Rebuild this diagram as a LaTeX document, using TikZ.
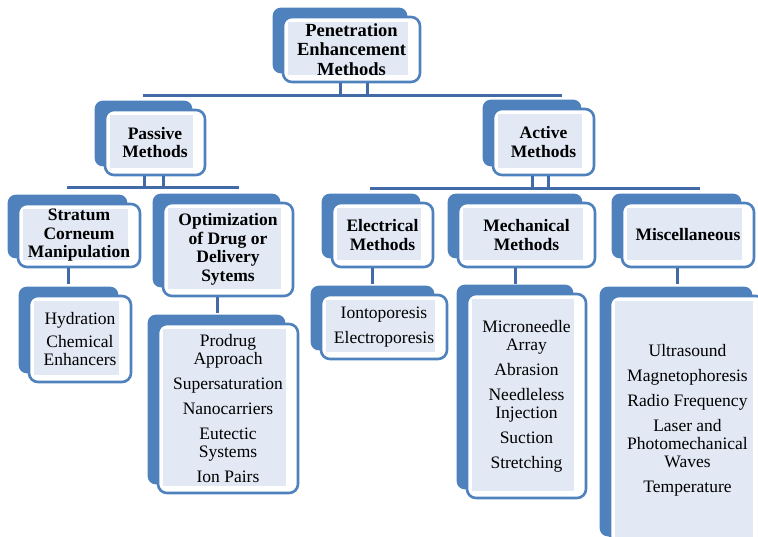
\documentclass[tikz,border=0pt]{standalone}
\usepackage{fontspec}
\setmainfont{Liberation Serif}
\usepackage{tikz}
\usetikzlibrary{backgrounds}
\definecolor{boxblue}{RGB}{79,129,189}
\definecolor{linkblue}{RGB}{66,106,166}
\definecolor{paleblue}{RGB}{226,233,244}

\begin{document}
\begin{tikzpicture}[x=1pt,y=-1pt,
  method/.style={draw=boxblue, line width=2.6pt, fill=white, rounded corners=9pt,
    align=center, inner sep=0pt, font=\bfseries\fontsize{17.5}{18.5}\selectfont,
    path picture={\fill[paleblue,sharp corners]
      ([shift={(5pt,-5pt)}]path picture bounding box.north west) rectangle
      ([shift={(-12pt,7pt)}]path picture bounding box.south east);}},
  items/.style={method, font=\fontsize{17.5}{18}\selectfont},
  link/.style={linkblue, line width=3pt}]
\useasboundingbox (0,0) rectangle (758,537);

% level 1
\node [method, minimum width=137pt, minimum height=65pt, font=\bfseries\fontsize{18.5}{19.5}\selectfont]
  (top) at (351.5,49.5) {Penetration\\Enhancement\\Methods};
% level 2
\node [method, minimum width=100pt, minimum height=65pt] (passive) at (155,142.5) {Passive\\Methods};
\node [method, minimum width=101pt, minimum height=66pt] (active) at (543.5,142) {Active\\Methods};
% level 3
\node [method, minimum width=122pt, minimum height=63pt] (stratum) at (79,235.5) {Stratum\\Corneum\\Manipulation};
\node [method, minimum width=130pt, minimum height=93pt] (optim) at (228,249.5) {Optimization\\of Drug or\\Delivery\\Sytems};
\node [method, minimum width=101pt, minimum height=64pt] (electric) at (382.5,235) {Electrical\\Methods};
\node [method, minimum width=137pt, minimum height=64pt] (mechanic) at (526.5,235) {Mechanical\\Methods};
\node [method, minimum width=132pt, minimum height=64pt] (misc) at (688,235) {Miscellaneous};
% level 4
\node [items, minimum width=102pt, minimum height=86pt] (hydra) at (80,339) {Hydration\\[5pt]Chemical\\Enhancers};
\node [items, minimum width=140pt, minimum height=169pt] (prodrug) at (228,408.5)
  {Prodrug\\Approach\\[7pt]Supersaturation\\[7pt]Nanocarriers\\[7pt]Eutectic\\Systems\\[7pt]Ion Pairs};
\node [items, minimum width=126pt, minimum height=64pt] (iono) at (384,327) {Iontoporesis\\[7pt]Electroporesis};
\node [items, minimum width=119pt, minimum height=204pt] (needle) at (526.5,396)
  {Microneedle\\Array\\[7pt]Abrasion\\[7pt]Needleless\\Injection\\[7pt]Suction\\[7pt]Stretching};
\node [items, minimum width=155pt, minimum height=249pt] (misclist) at (687.5,420.5)
  {Ultrasound\\[7pt]Magnetophoresis\\[7pt]Radio Frequency\\[7pt]Laser and\\Photomechanical\\Waves\\[7pt]Temperature};

\begin{scope}[on background layer]
\foreach \n in {top,passive,active,stratum,optim,electric,mechanic,misc,hydra,prodrug,iono,needle,misclist}
  \fill [boxblue, rounded corners=8pt] ([shift={(-9pt,8pt)}]\n.north west) rectangle ([shift={(-14pt,10pt)}]\n.south east);
\end{scope}

% bars
\coordinate (bar1l) at (143,96);
\coordinate (bar1r) at (562,96);
\coordinate (bar2l) at (67,188);
\coordinate (bar2r) at (239,188);
\coordinate (bar3l) at (370,189);
\coordinate (bar3r) at (700,189);
\draw [link] (bar1l) -- (bar1r);
\draw [link] (bar2l) -- (bar2r);
\draw [link] (bar3l) -- (bar3r);
\draw [link] ([xshift=-11pt]top.south) -- ++(0,14);
\draw [link] ([xshift=16pt]top.south) -- ++(0,14);
\draw [link] ([xshift=-11pt]passive.south) -- ++(0,13);
\draw [link] ([xshift=8pt]passive.south) -- ++(0,13);
\draw [link] ([xshift=-11pt]active.south) -- ++(0,14);
\draw [link] ([xshift=5pt]active.south) -- ++(0,14);

% down to the lists
\draw [link] ([xshift=-11pt]stratum.south) -- ++(0,16);
\draw [link] ([xshift=-11pt]optim.south) -- ++(0,16);
\draw [link] ([xshift=-10pt]electric.south) -- ++(0,16);
\draw [link] ([xshift=-11pt]mechanic.south) -- ++(0,16);
\draw [link] ([xshift=-11pt]misc.south) -- ++(0,16);

\end{tikzpicture}
\end{document}
